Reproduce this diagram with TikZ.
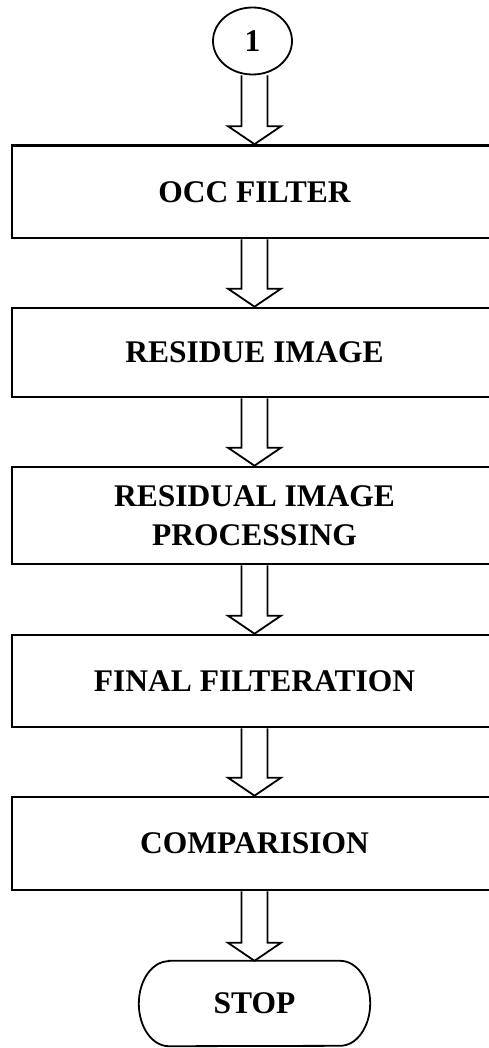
\documentclass[tikz,border=0pt]{standalone}
\usepackage{fontspec}
\setmainfont{Liberation Serif}
\usetikzlibrary{calc,shapes.geometric}

\newcommand\flowfont{\fontsize{31.5}{39}\selectfont\bfseries}

\tikzset{
  stagebox/.style={draw, line width=2.6pt, minimum width=485, inner sep=0pt,
    align=center, font=\flowfont},
  connector/.style={draw, ellipse, line width=1.8pt, minimum width=79,
    minimum height=67, inner sep=0pt, font=\flowfont},
  terminal/.style={minimum width=231, minimum height=85, inner sep=0pt,
    font=\flowfont},
  outline/.style={line width=1.8pt},
  openarrow/.style={line width=1.8pt, line join=miter},
}

% hollow block arrow from the bottom of #1 to the top of #2
\newcommand\blockarrow[2]{%
  \draw[openarrow]
    ($(#2.north |- #1.south)+(-13,0)$) -- ($(#2.north)+(-13,-18)$)
    -- ($(#2.north)+(-26.5,-18)$) -- (#2.north)
    -- ($(#2.north)+(26.5,-18)$) -- ($(#2.north)+(13,-18)$)
    -- ($(#2.north |- #1.south)+(13,0)$);}

\begin{document}
\begin{tikzpicture}[x=1pt, y=-1pt]
  \useasboundingbox (0,0) rectangle (488,1048);

  \node[connector] (start) at (252.5,41) {1};

  \node[stagebox, minimum height=92.5] (occ)  at (254.5,191.75) {OCC FILTER};
  \node[stagebox, minimum height=89]   (res)  at (254.5,352.5)  {RESIDUE IMAGE};
  \node[stagebox, minimum height=97]   (proc) at (254.5,515.5)  {RESIDUAL IMAGE\\PROCESSING};
  \node[stagebox, minimum height=92]   (fin)  at (254.5,681)    {FINAL FILTERATION};
  \node[stagebox, minimum height=93]   (comp) at (254.5,843.5)  {COMPARISION};

  \node[terminal] (stop) at (254.5,1003.5) {STOP};
  \draw[outline]
    ($(stop.north west)+(30,0)$) -- ($(stop.north east)+(-30,0)$)
    arc[start angle=90, end angle=-90, x radius=30pt, y radius=42.5pt]
    -- ($(stop.south west)+(30,0)$)
    arc[start angle=270, end angle=90, x radius=30pt, y radius=42.5pt]
    -- cycle;

  \blockarrow{start}{occ}
  \blockarrow{occ}{res}
  \blockarrow{res}{proc}
  \blockarrow{proc}{fin}
  \blockarrow{fin}{comp}
  \blockarrow{comp}{stop}
\end{tikzpicture}
\end{document}
